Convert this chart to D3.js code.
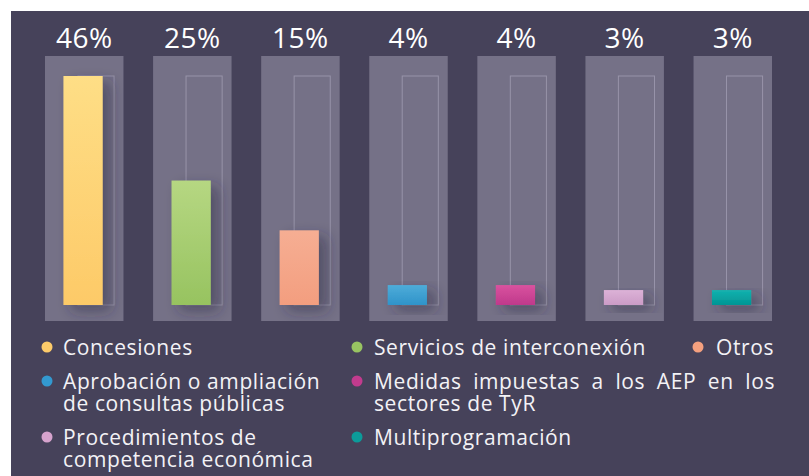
<!DOCTYPE html>
<html><head><meta charset="utf-8">
<script src="https://cdn.jsdelivr.net/npm/d3@7/dist/d3.min.js"></script>
<style>
html,body{margin:0;padding:0;background:#ffffff;}
svg{display:block;}
text{font-family:"Open Sans",sans-serif;}
</style></head>
<body>
<svg id="chart" width="809" height="476"></svg>
<script>
const categories = ["Concesiones","Servicios de interconexión","Otros","Aprobación o ampliación de consultas públicas","Medidas impuestas a los AEP en los sectores de TyR","Procedimientos de competencia económica","Multiprogramación"];
const values = [46,25,15,4,4,3,3];
const valueLabels = ["46%","25%","15%","4%","4%","3%","3%"];
const barTop = ["#fede86","#b6d782","#f6ae93","#4eacd9","#d9529f","#dcb2d7","#14b2af"];
const barBottom = ["#fdca68","#97c360","#f39e7f","#2f93c9","#bf398b","#cb9bc6","#009594"];
const dotColors = ["#fdcb6a","#98c462","#f4a07f","#3399d0","#c23b8e","#d6a3cd","#0c9b9a"];
const legendLines = [["Concesiones"],["Servicios de interconexión"],["Otros"],["Aprobación o ampliación","de consultas públicas"],["Medidas impuestas a los AEP en los","sectores de TyR"],["Procedimientos de","competencia económica"],["Multiprogramación"]];
const legendCol = [0,1,2,0,1,0,1];
const legendRow = [0,0,0,1,1,2,2];

const svg = d3.select("#chart");
const W = 809, H = 476;

svg.append("rect").attr("x",11).attr("y",11).attr("width",W-11).attr("height",H-11).attr("fill","#46425a");

const defs = svg.append("defs");
const f = defs.append("filter").attr("id","shadow").attr("x","-50%").attr("y","-50%").attr("width","200%").attr("height","200%");
f.append("feGaussianBlur").attr("in","SourceAlpha").attr("stdDeviation",7);
f.append("feOffset").attr("dx",8).attr("dy",6).attr("result","ob");
f.append("feFlood").attr("flood-color","#2a2840").attr("flood-opacity",0.45);
f.append("feComposite").attr("in2","ob").attr("operator","in");
const fm = f.append("feMerge"); fm.append("feMergeNode"); fm.append("feMergeNode").attr("in","SourceGraphic");

categories.forEach((c,i)=>{
  const g = defs.append("linearGradient").attr("id","g"+i).attr("x1",0).attr("y1",0).attr("x2",0).attr("y2",1);
  g.append("stop").attr("offset","0%").attr("stop-color",barTop[i]);
  g.append("stop").attr("offset","100%").attr("stop-color",barBottom[i]);
});

const x = d3.scaleBand().domain(categories).range([45,772]).paddingInner(0.274).paddingOuter(0).align(0);
const y = d3.scaleLinear().domain([0,46]).range([305,76]);
const bw = x.bandwidth();
const cardTop = 56, cardBottom = 321;

categories.forEach((c,i)=>{
  const cx = x(c);
  defs.append("clipPath").attr("id","clip"+i).append("rect").attr("x",cx).attr("y",cardTop).attr("width",bw).attr("height",cardBottom-cardTop);
  const g = svg.append("g");
  g.append("rect").attr("x",cx).attr("y",cardTop).attr("width",bw).attr("height",cardBottom-cardTop).attr("fill","#757187");
  const inner = g.append("g").attr("clip-path","url(#clip"+i+")");
  inner.append("rect").attr("x",cx+bw*0.42).attr("y",y(46)).attr("width",bw*0.46).attr("height",y(0)-y(46))
    .attr("fill","none").attr("stroke","#9894a9").attr("stroke-width",1);
  inner.append("rect").attr("x",cx+bw*0.235).attr("y",y(values[i])).attr("width",bw*0.5).attr("height",y(0)-y(values[i]))
    .attr("fill","url(#g"+i+")").attr("filter","url(#shadow)");
  svg.append("text").attr("x",cx+bw/2).attr("y",48).attr("text-anchor","middle")
    .attr("fill","#ffffff").attr("font-size",28).attr("letter-spacing",0.5).text(valueLabels[i]);
});

const colDot = [47,357,698], colText = [63,374,716];
const rowBase = [355,389,445];
const lineH = 22;
categories.forEach((c,i)=>{
  const col = legendCol[i], row = legendRow[i];
  svg.append("circle").attr("cx",colDot[col]).attr("cy",rowBase[row]-8).attr("r",5.5).attr("fill",dotColors[i]);
  const t = svg.append("text").attr("x",colText[col]).attr("y",rowBase[row])
    .attr("fill","#f3f2f6").attr("font-size",21).attr("letter-spacing",0.6);
  legendLines[i].forEach((ln,j)=>{
    const ts = t.append("tspan").attr("x",colText[col]).attr("dy",j===0?0:lineH).text(ln);
    if(i===4 && j===0){
      const target = 775-374;
      const nat = ts.node().getComputedTextLength();
      const spaces = ln.split(" ").length-1;
      ts.attr("word-spacing",(target-nat)/spaces);
    }
  });
});
</script>
</body></html>
